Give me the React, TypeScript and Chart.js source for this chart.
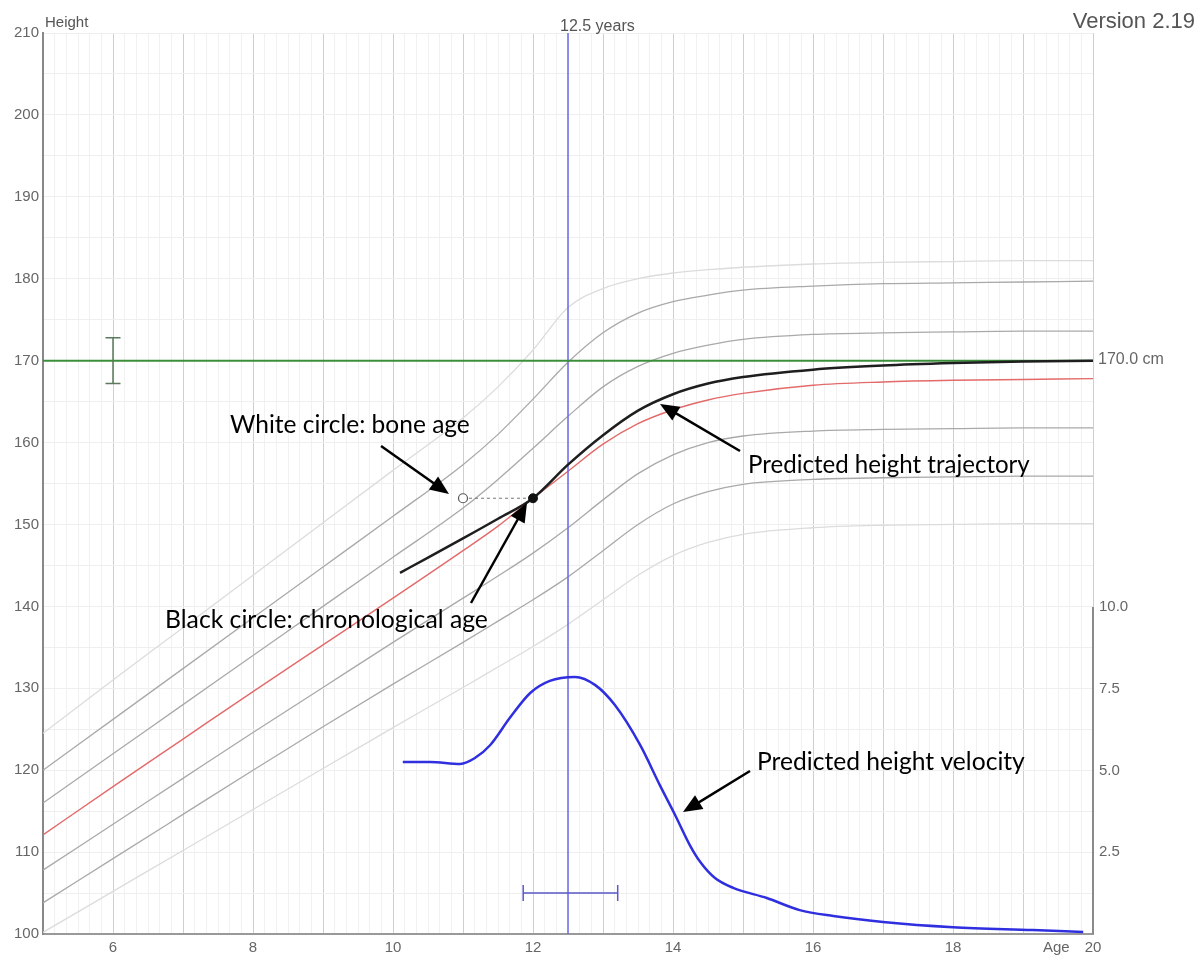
import React, { useEffect, useRef } from "react";
import { Chart, registerables } from "chart.js";

Chart.register(...registerables);

// ---------------- data ----------------
const refAges = [5, 6, 7, 8, 9, 10, 11, 11.5, 12, 12.5, 13, 13.5, 14, 14.5, 15, 16, 17, 18, 19, 20];
const refPlus3 = [124.5, 131.0, 137.4, 143.8, 150.2, 156.6, 163.0, 166.8, 171.3, 176.5, 178.8, 180.0, 180.7, 181.1, 181.4, 181.8, 182.0, 182.1, 182.2, 182.2];
const refPlus2 = [120.0, 126.2, 132.4, 138.6, 144.8, 151.0, 157.3, 161.0, 165.3, 169.8, 173.4, 175.8, 177.2, 178.0, 178.6, 179.1, 179.4, 179.5, 179.6, 179.7];
const refPlus1 = [116.0, 122.0, 128.0, 134.0, 140.0, 146.0, 152.0, 155.5, 159.3, 163.2, 166.8, 169.3, 170.9, 171.9, 172.6, 173.2, 173.4, 173.5, 173.6, 173.6];
const refMedian = [112.1, 118.0, 123.8, 129.6, 135.3, 141.0, 146.8, 149.8, 153.2, 156.5, 159.8, 162.3, 164.0, 165.2, 166.0, 167.0, 167.4, 167.6, 167.7, 167.8];
const refMinus1 = [107.8, 113.4, 119.0, 124.6, 130.1, 135.6, 141.0, 143.7, 146.5, 149.6, 153.0, 156.2, 158.5, 160.0, 160.8, 161.4, 161.6, 161.7, 161.8, 161.8];
const refMinus2 = [103.8, 109.2, 114.6, 120.0, 125.3, 130.5, 135.6, 138.2, 140.8, 143.6, 146.8, 150.0, 152.5, 154.0, 154.9, 155.5, 155.7, 155.8, 155.9, 155.9];
const refMinus3 = [100.2, 105.2, 110.2, 115.2, 120.2, 125.2, 130.1, 132.6, 135.1, 137.8, 140.8, 143.8, 146.2, 147.8, 148.8, 149.6, 149.9, 150.0, 150.1, 150.1];

const trajAges = [10.1, 10.5, 11, 11.5, 12, 12.5, 13, 13.5, 14, 14.5, 15, 16, 17, 18, 19, 20];
const trajHeights = [144.1, 145.95, 148.3, 150.7, 153.2, 157.3, 160.9, 163.9, 165.9, 167.2, 168.0, 168.9, 169.4, 169.7, 169.9, 170.0];

const velAges = [10.14, 10.53, 10.96, 11.17, 11.39, 11.67, 11.96, 12.24, 12.6, 12.89, 13.17, 13.53, 13.81, 14.03, 14.24, 14.39, 14.6, 14.86, 15.34, 15.81, 16.29, 17.0, 18.0, 19.14, 19.86];
const velValues = [5.26, 5.26, 5.2, 5.38, 5.78, 6.61, 7.37, 7.74, 7.86, 7.61, 7.0, 5.78, 4.56, 3.64, 2.72, 2.2, 1.71, 1.41, 1.1, 0.73, 0.55, 0.37, 0.21, 0.12, 0.06];

const targetHeight = 170.0;
const targetAge = 6;
const targetRange = [167.2, 172.8];
const boneAge = 11;
const chronAge = 12;
const currentHeight = 153.2;
const phvAge = 12.5;
const phvRange = [11.86, 13.21];
const phvRangeLevel = 1.25;

const xLabelValues = [6, 8, 10, 12, 14, 16, 18, 20];
const velocityTickValues = [2.5, 5, 7.5, 10];

const annotationTexts = [
  "White circle: bone age",
  "Predicted height trajectory",
  "Black circle: chronological age",
  "Predicted height velocity",
];
// anchor (age, height) of text, arrow start, arrow tip
const annotationAnchors = [
  { text: [7.671, 162.14], from: [9.829, 159.58], to: [10.8, 153.72], width: 240 },
  { text: [15.071, 157.26], from: [14.957, 158.97], to: [13.814, 164.71], width: 282 },
  { text: [6.743, 138.34], from: [11.114, 140.41], to: [11.914, 152.62], width: 323 },
  { text: [15.2, 121.0], from: [15.1, 119.9], to: [14.143, 114.89], width: 268 },
];

// ---------------- helpers ----------------
const pts = (xs: number[], ys: number[]) => xs.map((x, i) => ({ x, y: ys[i] }));

const xGridTicks: number[] = [];
for (let i = 0; i <= 15 * 6; i++) xGridTicks.push(5 + i / 6);
const isInt = (v: number) => Math.abs(v - Math.round(v)) < 1e-6;

const TICK_FONT = "'Liberation Sans', Arial, sans-serif";

function drawArrow(ctx: CanvasRenderingContext2D, x1: number, y1: number, x2: number, y2: number) {
  const ang = Math.atan2(y2 - y1, x2 - x1);
  const head = 19;
  const half = 8;
  const c = Math.cos(ang), s = Math.sin(ang);
  ctx.save();
  ctx.strokeStyle = "#000";
  ctx.fillStyle = "#000";
  ctx.lineWidth = 2.5;
  ctx.beginPath();
  ctx.moveTo(x1, y1);
  ctx.lineTo(x2 - head * 0.8 * c, y2 - head * 0.8 * s);
  ctx.stroke();
  ctx.beginPath();
  ctx.moveTo(x2, y2);
  ctx.lineTo(x2 - head * c + half * s, y2 - head * s - half * c);
  ctx.lineTo(x2 - head * c - half * s, y2 - head * s + half * c);
  ctx.closePath();
  ctx.fill();
  ctx.restore();
}

const overlayPlugin = {
  id: "overlay",
  afterDatasetsDraw(chart: any) {
    const { ctx, chartArea } = chart;
    const x = chart.scales.x;
    const y = chart.scales.y;
    const y2 = chart.scales.y2;
    ctx.save();

    // velocity axis line (0..10)
    ctx.strokeStyle = "#8a8a8a";
    ctx.lineWidth = 2;
    ctx.beginPath();
    ctx.moveTo(chartArea.right, y2.getPixelForValue(0));
    ctx.lineTo(chartArea.right, y2.getPixelForValue(10));
    ctx.stroke();

    // target height error bar
    const tx = x.getPixelForValue(targetAge);
    const t1 = y.getPixelForValue(targetRange[0]);
    const t2 = y.getPixelForValue(targetRange[1]);
    ctx.strokeStyle = "#5b7a5b";
    ctx.lineWidth = 1.5;
    ctx.beginPath();
    ctx.moveTo(tx, t1);
    ctx.lineTo(tx, t2);
    ctx.moveTo(tx - 7.5, t1);
    ctx.lineTo(tx + 7.5, t1);
    ctx.moveTo(tx - 7.5, t2);
    ctx.lineTo(tx + 7.5, t2);
    ctx.stroke();

    // PHV age error bar
    const py = y2.getPixelForValue(phvRangeLevel);
    const p1 = x.getPixelForValue(phvRange[0]);
    const p2 = x.getPixelForValue(phvRange[1]);
    ctx.strokeStyle = "#5a5ac8";
    ctx.lineWidth = 1.5;
    ctx.beginPath();
    ctx.moveTo(p1, py);
    ctx.lineTo(p2, py);
    ctx.moveTo(p1, py - 8);
    ctx.lineTo(p1, py + 8);
    ctx.moveTo(p2, py - 8);
    ctx.lineTo(p2, py + 8);
    ctx.stroke();

    // texts
    ctx.fillStyle = "#555";
    ctx.textBaseline = "middle";
    ctx.textAlign = "left";
    ctx.font = `15px ${TICK_FONT}`;
    ctx.fillText("Height", chartArea.left + 2, chartArea.top - 10);
    ctx.font = `16px ${TICK_FONT}`;
    ctx.fillText(`${phvAge} years`, x.getPixelForValue(phvAge) - 8, chartArea.top - 6);
    ctx.fillStyle = "#666";
    ctx.fillText(`${targetHeight.toFixed(1)} cm`, chartArea.right + 5, y.getPixelForValue(targetHeight) - 1);
    ctx.font = `15px ${TICK_FONT}`;
    ctx.fillText("Age", chartArea.right - 50, chartArea.bottom + 14);
    ctx.fillStyle = "#555";
    ctx.textAlign = "right";
    ctx.font = `22px ${TICK_FONT}`;
    ctx.fillText("Version 2.19", chart.width - 2, 22);

    // annotations
    ctx.fillStyle = "#000";
    ctx.textAlign = "left";
    annotationTexts.forEach((t, i) => {
      const a = annotationAnchors[i];
      ctx.font = `20px Lato, 'Open Sans', sans-serif`;
      const w = ctx.measureText(t).width;
      const size = (20 * a.width) / w;
      ctx.font = `${size}px Lato, 'Open Sans', sans-serif`;
      ctx.fillText(t, x.getPixelForValue(a.text[0]), y.getPixelForValue(a.text[1]));
      drawArrow(
        ctx,
        x.getPixelForValue(a.from[0]),
        y.getPixelForValue(a.from[1]),
        x.getPixelForValue(a.to[0]),
        y.getPixelForValue(a.to[1])
      );
    });
    ctx.restore();
  },
};

export default function App() {
  const ref = useRef<HTMLCanvasElement | null>(null);
  useEffect(() => {
    if (!ref.current) return;
    const lineDs = (label: string, data: any[], color: string, width: number, order: number, extra: any = {}) => ({
      label,
      data,
      borderColor: color,
      backgroundColor: color,
      borderWidth: width,
      pointRadius: 0,
      cubicInterpolationMode: "monotone",
      fill: false,
      order,
      yAxisID: "y",
      ...extra,
    });
    const chart = new Chart(ref.current, {
      type: "line",
      data: {
        datasets: [
          lineDs("+3", pts(refAges, refPlus3), "#dcdcdc", 1.3, 20),
          lineDs("+2", pts(refAges, refPlus2), "#a9a9a9", 1.3, 19),
          lineDs("+1", pts(refAges, refPlus1), "#a9a9a9", 1.3, 18),
          lineDs("median", pts(refAges, refMedian), "#e36a6a", 1.4, 17),
          lineDs("-1", pts(refAges, refMinus1), "#a9a9a9", 1.3, 16),
          lineDs("-2", pts(refAges, refMinus2), "#a9a9a9", 1.3, 15),
          lineDs("-3", pts(refAges, refMinus3), "#dcdcdc", 1.3, 14),
          lineDs("phv", [{ x: phvAge, y: 100 }, { x: phvAge, y: 210 }], "rgba(110,110,235,0.78)", 2, 10),
          lineDs("target", [{ x: 5, y: targetHeight }, { x: 20, y: targetHeight }], "#3b8f3b", 2, 9),
          lineDs("velocity", pts(velAges, velValues), "#2f2fe0", 2.5, 8, { yAxisID: "y2" }),
          lineDs("trajectory", pts(trajAges, trajHeights), "#1e1e1e", 2.5, 6),
          lineDs("boneLink", [{ x: boneAge, y: currentHeight }, { x: chronAge, y: currentHeight }], "#777", 1, 5, { borderDash: [3, 3] }),
          {
            label: "bone age",
            data: [{ x: boneAge, y: currentHeight }],
            pointRadius: 4.5,
            pointBackgroundColor: "#fff",
            pointBorderColor: "#555",
            pointBorderWidth: 1.2,
            showLine: false,
            order: 2,
            yAxisID: "y",
          },
          {
            label: "chron age",
            data: [{ x: chronAge, y: currentHeight }],
            pointRadius: 4.5,
            pointBackgroundColor: "#111",
            pointBorderColor: "#111",
            pointBorderWidth: 1,
            showLine: false,
            order: 1,
            yAxisID: "y",
          },
        ] as any,
      },
      options: {
        animation: false,
        responsive: false,
        devicePixelRatio: 1,
        layout: { padding: { top: 33, left: 0, right: 0, bottom: 0 } },
        plugins: { legend: { display: false }, tooltip: { enabled: false } },
        scales: {
          x: {
            type: "linear",
            min: 5,
            max: 20,
            afterBuildTicks: (scale: any) => {
              scale.ticks = xGridTicks.map((value) => ({ value }));
            },
            afterFit: (scale: any) => {
              scale.height = 22;
            },
            ticks: {
              autoSkip: false,
              maxRotation: 0,
              minRotation: 0,
              padding: 5,
              color: "#666",
              font: { family: TICK_FONT, size: 15 },
              callback: (v: any) => {
                const n = Number(v);
                return isInt(n) && xLabelValues.includes(Math.round(n)) ? String(Math.round(n)) : "";
              },
            },
            grid: {
              drawTicks: false,
              color: (c: any) => (c.tick && isInt(c.tick.value) ? "#cfcfcf" : "#f1f1f1"),
              lineWidth: 1,
            },
            border: { color: "#999", width: 2 },
          },
          y: {
            type: "linear",
            position: "left",
            min: 100,
            max: 210,
            afterFit: (scale: any) => {
              scale.width = 43;
            },
            ticks: {
              stepSize: 5,
              autoSkip: false,
              padding: 4,
              color: "#666",
              font: { family: TICK_FONT, size: 15 },
              callback: (v: any) => (Number(v) % 10 === 0 ? String(v) : ""),
            },
            grid: { drawTicks: false, color: "#efefef", lineWidth: 1 },
            border: { color: "#888", width: 2 },
          },
          y2: {
            type: "linear",
            position: "right",
            min: 0,
            max: 27.55,
            afterBuildTicks: (scale: any) => {
              scale.ticks = velocityTickValues.map((value) => ({ value }));
            },
            afterFit: (scale: any) => {
              scale.width = 104;
            },
            ticks: {
              autoSkip: false,
              padding: 6,
              color: "#666",
              font: { family: TICK_FONT, size: 15 },
              callback: (v: any) => Number(v).toFixed(1),
            },
            grid: { display: false, drawTicks: false },
            border: { display: false },
          },
        },
      } as any,
      plugins: [overlayPlugin],
    });
    return () => chart.destroy();
  }, []);
  return (
    <div style={{ position: "absolute", left: 0, top: 0, width: 1197, height: 956, background: "#fff" }}>
      <canvas ref={ref} width={1197} height={956} />
    </div>
  );
}
